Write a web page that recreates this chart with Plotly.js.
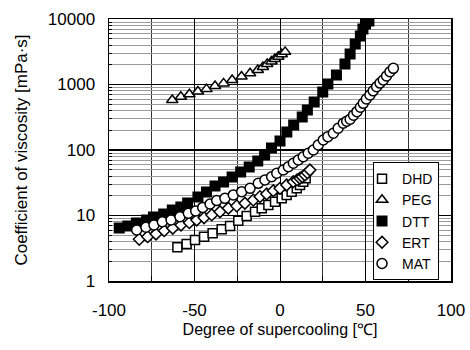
<!DOCTYPE html>
<html>
<head>
<meta charset="utf-8">
<script src="https://cdn.plot.ly/plotly-3.0.1.min.js"></script>
<style>html,body{margin:0;padding:0;background:#fff;}#chart{width:470px;height:350px;}</style>
</head>
<body>
<div id="chart"></div>
<script>
// ---- data ----
const dhdT = [-60, -54.6, -49.7, -44.4, -39.4, -34.1, -29.2, -24.4, -19.5, -14.6, -10.7, -6.8, -2.9, 1, 3.9, 6.8, 9.8, 11.7, 13.6, 15];
const dhdV = [3.27, 3.67, 4.23, 4.75, 5.35, 6.15, 6.91, 8.33, 9.83, 11.4, 12.9, 14.5, 16.2, 18.3, 20.6, 23.1, 26.0, 29.2, 32.8, 37.0];

const pegT = [-63, -58, -53, -48, -43, -38, -33, -28, -22.5, -17.5, -13, -10, -7.5, -5, -3, -1, 1, 3];
const pegV = [580, 650, 710, 780, 850, 950, 1040, 1170, 1320, 1480, 1660, 1850, 2050, 2250, 2450, 2650, 2900, 3150];

const dttT = [-94, -89, -84, -78, -74, -68, -63, -58, -54, -48, -43, -38, -33, -28, -23, -18, -13, -9, -5, 0, 4, 8, 13, 16, 20, 25, 28, 33, 38, 41, 44, 47, 48.5, 50, 52];
const dttV = [6.45, 6.91, 7.68, 8.54, 9.49, 10.5, 12.1, 13.5, 15.5, 19.2, 22.8, 28.2, 32.5, 38.7, 46.1, 55.0, 68.0, 83.9, 107, 137, 188, 241, 319, 408, 541, 768, 1018, 1397, 2055, 2923, 4150, 5500, 7030, 8390, 9320];

const ertT = [-82.3, -77.4, -72.5, -67.7, -62.7, -57.9, -53, -48.7, -44.4, -39.9, -35.1, -30.2, -25.3, -20.5, -15.6, -11.7, -7.8, -3.9, 0, 3.9, 7.8, 10, 11.7, 13, 14.6, 16, 17.5];
const ertV = [4.33, 4.75, 5.22, 5.86, 6.38, 7.16, 7.77, 8.54, 9.25, 10.2, 11.4, 12.9, 14.0, 15.4, 17.2, 19.4, 21.3, 23.9, 26.0, 29.2, 32.8, 35, 37.0, 39, 41.5, 45, 49.5];

const matT = [-83.8, -78.4, -73.7, -68.8, -63.7, -58.5, -53.6, -49.3, -45.2, -40.9, -37, -32.2, -27.3, -22.4, -17.5, -12.7, -8.8, -4.9, -1.9, 1.9, 4.9, 7.8, 10.7, 13.6, 16.5, 19.5, 22.4, 25.3, 28, 31.2, 34, 37, 39, 41, 43, 45, 47, 48.7, 50.5, 52.6, 54.5, 56.5, 58.5, 60.4, 62.3, 64.3, 66.3];
const matV = [6.01, 6.61, 7.16, 8.04, 8.54, 9.59, 10.8, 11.7, 13.3, 15.0, 16.9, 18.3, 20.6, 23.1, 26.0, 31.0, 34.8, 39.1, 44.1, 49.5, 55.6, 62.7, 70.4, 79.0, 89.1, 100, 119, 142, 160, 180, 215, 256, 275, 295, 340, 385, 450, 516, 600, 691, 800, 925, 1050, 1171, 1350, 1567, 1767];

const xTickVals = [-100, -50, 0, 50, 100];
const xTickText = ['-100', '-50', '0', '50', '100'];
const yTickVals = [1, 10, 100, 1000, 10000];
const yTickText = ['1', '10', '100', '1000', '10000'];

const FONT = 'Arial, "Liberation Sans", sans-serif';

function series(name, x, y, symbol, fill, size) {
  return {
    type: 'scatter', mode: 'markers', name: name, x: x, y: y,
    marker: {symbol: symbol, size: size, color: fill, line: {color: '#000', width: 1.5}}
  };
}

const traces = [
  series('DHD', dhdT, dhdV, 'square', '#fff', 9),
  series('PEG', pegT, pegV, 'triangle-up', '#fff', 10),
  series('DTT', dttT, dttV, 'square', '#000', 9.5),
  series('ERT', ertT, ertV, 'diamond', '#fff', 9),
  series('MAT', matT, matV, 'circle', '#fff', 10)
];

const layout = {
  width: 470, height: 350,
  margin: {l: 109, r: 19, t: 19, b: 69},
  paper_bgcolor: '#fff', plot_bgcolor: '#fff',
  font: {family: FONT, size: 17, color: '#000'},
  showlegend: true,
  legend: {
    x: 0.772, y: 0.454, xanchor: 'left', yanchor: 'top',
    bgcolor: '#fff', bordercolor: '#000', borderwidth: 1,
    font: {family: FONT, size: 14, color: '#000'},
    itemwidth: 30, indentation: -12, tracegroupgap: 0
  },
  xaxis: {
    range: [-100, 100], tickvals: xTickVals, ticktext: xTickText,
    ticks: 'inside', ticklen: 5, tickcolor: '#000',
    showgrid: true, gridcolor: '#000', gridwidth: 1,
    minor: {dtick: 25, ticks: 'inside', ticklen: 5, tickcolor: '#000', showgrid: true, gridcolor: '#000', gridwidth: 0.8},
    showline: true, linecolor: '#000', linewidth: 1.5, mirror: true, zeroline: false,
    tickfont: {family: FONT, size: 17},
    ticklabelstandoff: 13,
    title: {text: 'Degree of supercooling [℃]', font: {family: FONT, size: 16}, standoff: 5}
  },
  yaxis: {
    type: 'log', range: [0, 4],
    tickvals: yTickVals, ticktext: yTickText,
    ticks: 'inside', ticklen: 5, tickcolor: '#000',
    showgrid: true, gridcolor: '#000', gridwidth: 1.2,
    minor: {dtick: 'D1', ticks: 'inside', ticklen: 3, tickcolor: '#000', showgrid: true, gridcolor: '#9a9a9a', gridwidth: 1},
    showline: true, linecolor: '#000', linewidth: 1.5, mirror: true, zeroline: false,
    tickfont: {family: FONT, size: 17},
    ticklabelstandoff: 9,
    title: {text: 'Coefficient of viscosity [mPa·s]', font: {family: FONT, size: 17}, standoff: 16}
  }
};

Plotly.newPlot('chart', traces, layout, {staticPlot: true, displayModeBar: false});
</script>
</body>
</html>
